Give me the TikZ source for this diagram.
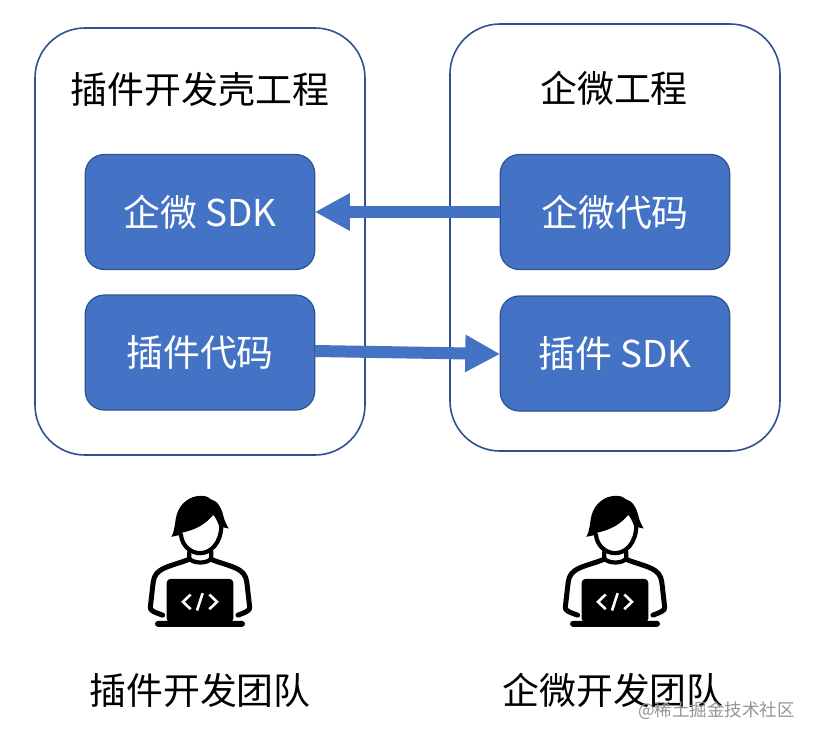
\documentclass[tikz,border=0pt]{standalone}
\usepackage{fontspec}
\setmainfont{Noto Sans CJK SC}
\usetikzlibrary{arrows.meta,calc}
\definecolor{boxfill}{HTML}{4472C4}
\definecolor{boxline}{HTML}{2F528F}
\tikzset{
  every node/.style={inner sep=0pt,outer sep=0pt},
  label36/.style={font=\fontsize{36.9}{40}\selectfont,text=black},
  outerbox/.style={draw=boxline,line width=1.6pt,fill=white,rounded corners=50pt,minimum width=330pt,minimum height=427pt},
  innerbox/.style={draw=boxline,line width=1.2pt,fill=boxfill,rounded corners=19pt,minimum width=229.5pt,minimum height=115pt,
    font=\fontsize{36.9}{40}\selectfont,text=white},
  flow/.style={draw=boxfill,line width=12pt,-{Triangle[length=35pt,width=35pt]},shorten >=0pt},
  pic stroke/.style={draw=black,line width=4.2pt,line cap=round,line join=round},
  devperson/.pic={
    \begin{scope}[x=0.3333pt,y=-0.3333pt,shift={(-210,-245)}]
      % shoulders and arms
      \draw[pic stroke,line width=5pt] (178,238) .. controls (150,250) and (110,258) .. (90,272)
        .. controls (72,284) and (70,300) .. (68,320) -- (61,382) .. controls (60,392) and (70,396) .. (98,406);
      \draw[pic stroke,line width=5pt] (242,238) .. controls (270,250) and (310,258) .. (330,272)
        .. controls (348,284) and (350,300) .. (352,320) -- (359,382) .. controls (360,392) and (350,396) .. (324,406);
      % collar
      \draw[pic stroke] (178,216) -- (178,236) .. controls (190,252) and (232,252) .. (244,236) -- (244,216);
      % face
      \draw[pic stroke] (153,165) .. controls (156,200) and (185,220) .. (210,220)
        .. controls (242,220) and (274,190) .. (274,135);
      % hair
      \fill[black] (124,171) .. controls (136,150) and (134,125) .. (140,105)
        .. controls (150,70) and (180,48) .. (212,48)
        .. controls (232,48) and (238,54) .. (242,58)
        .. controls (262,62) and (275,85) .. (280,108)
        .. controls (284,125) and (290,135) .. (296,146)
        -- (278,142) -- (270,150)
        .. controls (266,130) and (258,115) .. (250,105)
        .. controls (225,135) and (195,150) .. (158,158)
        -- (152,165) -- cycle;
      % laptop
      \fill[black,rounded corners=4pt] (110,297) rectangle (310,428);
      \fill[black,rounded corners=3pt] (75,423) rectangle (345,441);
      % code glyph
      \draw[white,line width=2.6pt,line join=miter] (182,344) -- (159,366) -- (182,388);
      \draw[white,line width=2.6pt,line join=miter] (238,344) -- (261,366) -- (238,388);
      \draw[white,line width=2.6pt] (218,340) -- (201,392);
    \end{scope}
  }
}
\begin{document}
\begin{tikzpicture}[x=1pt,y=-1pt]
\useasboundingbox[fill=white] (0,0) rectangle (814,742);
\node[outerbox] (leftproj) at (200,241.5) {};
\node[outerbox] (rightproj) at (615,237.5) {};
\node[label36] (lefttitle) at (200,90) {插件开发壳工程};
\node[label36] (righttitle) at (614,88) {企微工程};
\node[innerbox] (wxsdk) at (200,212) {企微 SDK};
\node[innerbox] (plugcode) at (200,352.5) {插件代码};
\node[innerbox] (wxcode) at (615,212) {企微代码};
\node[innerbox] (plugsdk) at (615,353.5) {插件 SDK};
\draw[flow] (wxcode.west) -- (wxsdk.east);
\draw[flow] ($(plugcode.east)+(0,-1.5)$) -- ($(plugsdk.west)+(0,0.5)$);
\pic at (200,561.5) {devperson};
\pic at (615,561.5) {devperson};
\node[label36] (leftteam) at (200,690) {插件开发团队};
\node[label36] (rightteam) at (613,690) {企微开发团队};
\node[font=\fontsize{17.5}{20}\selectfont,text=black!42] (mark) at (716.5,711) {@稀土掘金技术社区};
\end{tikzpicture}
\end{document}
